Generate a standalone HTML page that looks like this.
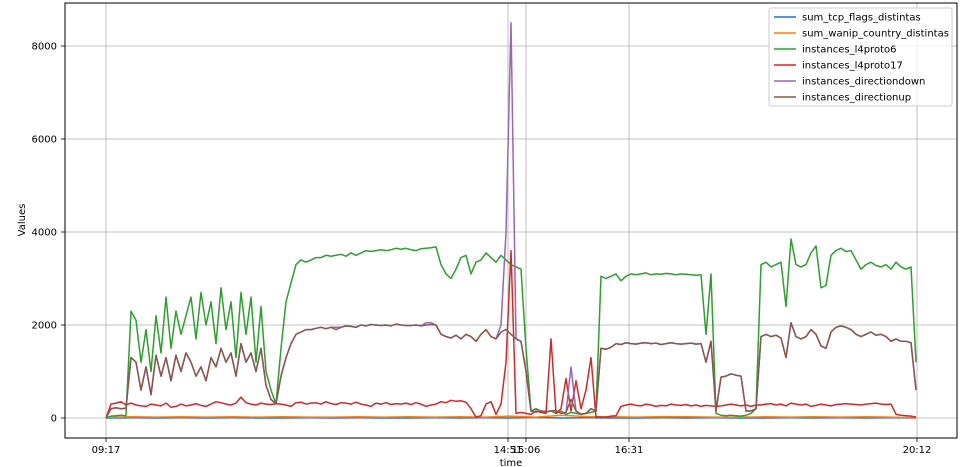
<!DOCTYPE html>
<html><head><meta charset="utf-8"><style>
html,body{margin:0;padding:0;background:#fff}
svg{display:block;font-family:"DejaVu Sans","Liberation Sans",sans-serif}
</style></head><body>
<svg id="chart" width="968" height="467" viewBox="0 0 968 467" xmlns="http://www.w3.org/2000/svg">
<rect x="0" y="0" width="968" height="467" fill="#fff"/>
<g id="grid"></g>
<g id="series"></g>
<rect x="65" y="3" width="892" height="435" fill="none" stroke="#000" stroke-width="1"/>
<g id="ticks"></g>
<text x="511" y="466" font-size="10" text-anchor="middle">time</text>
<text x="0" y="0" font-size="10" text-anchor="middle" transform="translate(25,220) rotate(-90)">Values</text>
<g id="legend"></g>
</svg>
<script>
const seriesNames = ["sum_tcp_flags_distintas","sum_wanip_country_distintas","instances_l4proto6","instances_l4proto17","instances_directiondown","instances_directionup"];
const seriesColors = ["#1f77b4","#ff7f0e","#2ca02c","#d62728","#9467bd","#8c564b"];
const yTicks = [0,2000,4000,6000,8000];
const xTickPos = [0,80.4,84,104.6,162.2];
const xTickLabels = ["09:17","14:51","15:06","16:31","20:12"];
const blueValues = [0,5,0,5,0,5,0,0,5,0,5,0,0,5,0,5,0,10,0,5,0,0,5,0,5,0,0,5,0,5,0,5,0];
const orangeValues = [10,25,20,25,20,25,20,25,20,20,25,20,25,20,25,20,40,20,60,30,25,20,30,25,20,20,25,20,25,20,25,20,5];
const greenValues = [0,40,50,60,50,
2300,2100,1200,1900,1000,2200,1400,2600,1500,2300,1800,
2200,2600,1700,2700,2000,2500,1600,2800,1900,2500,1300,2700,1800,2600,1200,2400,1000,600,300,1500,
2500,2900,3300,3400,3350,
3400,3450,3450,3500,3480,3500,3520,3480,3550,3500,3550,3600,3580,3600,3620,3600,3620,3650,3630,3650,3620,3600,3640,3650,3660,3680,
3300,3100,3000,3200,3450,3500,3100,3350,3400,3550,3450,3350,3500,3400,3300,3250,3200,
1500,150,200,150,130,150,100,150,80,120,100,80,100,120,
150,3050,3000,3050,3100,2950,3050,3100,3080,3100,3120,3080,3100,3090,3110,3100,3080,3100,3090,3080,3070,3080,
1800,3100,100,60,50,60,50,40,60,100,
200,3300,3350,3250,3300,3350,2400,3850,3300,3250,3300,3550,3700,2800,2850,3500,
3600,3650,3580,3600,3400,3200,3300,3350,3280,3250,3300,3200,3350,3250,3200,3250,1200];
const redValues = [0,300,320,350,280,
320,280,260,250,300,280,260,320,230,250,300,260,280,310,270,250,300,350,330,300,280,320,450,330,300,280,320,300,290,310,300,280,250,330,340,300,
320,330,300,350,310,290,330,320,300,340,300,280,250,320,300,330,290,310,300,320,290,330,300,250,280,300,
350,330,380,360,370,340,200,20,50,300,350,80,300,1200,3600,100,120,
100,80,150,120,100,1700,100,200,850,150,800,200,600,1300,20,
20,20,40,50,250,
280,300,270,260,300,280,250,270,260,300,280,270,290,260,280,250,270,260,
250,260,280,300,280,260,280,250,280,
280,300,310,280,300,260,320,300,280,300,250,270,300,280,260,290,300,310,300,290,280,300,310,320,300,290,300,
80,60,50,40,20];
const purpleValues = [0,200,220,200,210,
1300,1200,600,1100,500,1350,900,1300,800,1350,1000,
1400,1200,900,1100,800,1300,1100,1500,1200,1400,900,1600,1200,1400,1000,1500,700,400,300,900,
1300,1600,1800,1850,1900,
1900,1930,1950,1920,1950,1950,1950,1980,1970,1950,2000,1980,2010,2000,1990,2000,1980,2020,2000,1990,1990,2000,1980,2050,2050,2000,
1800,1750,1720,1780,1700,1800,1750,1650,1800,1900,1750,1700,2000,4000,8500,1700,1650,
1000,150,130,150,140,150,160,100,120,1100,150,80,100,200,
150,1500,1480,1520,1600,1580,1620,1600,1590,1610,1620,1600,1610,1580,1600,1620,1600,1590,1600,1610,1590,1600,
1200,1650,150,880,900,950,920,900,150,150,
200,1750,1800,1750,1780,1720,1300,2050,1750,1700,1750,1900,1800,1550,1500,1850,
1950,1980,1950,1900,1800,1750,1800,1850,1780,1800,1750,1650,1700,1650,1650,1620,600];
const brownValues = [0,200,220,200,210,
1300,1200,600,1100,500,1350,900,1300,800,1350,1000,
1400,1200,900,1100,800,1300,1100,1500,1200,1400,900,1600,1200,1400,1000,1500,700,400,300,900,
1300,1600,1800,1850,1900,
1900,1930,1950,1920,1950,1900,1950,1980,1970,1950,2000,1980,2010,2000,1990,2000,1980,2020,2000,1990,1990,2000,1980,2000,2010,2000,
1800,1750,1720,1780,1700,1800,1750,1650,1800,1900,1750,1700,1850,1900,1800,1700,1650,
1000,150,130,150,140,150,160,100,120,400,150,80,100,200,
150,1500,1480,1520,1600,1580,1620,1600,1590,1610,1620,1600,1610,1580,1600,1620,1600,1590,1600,1610,1590,1600,
1200,1650,150,880,900,950,920,900,150,150,
200,1750,1800,1750,1780,1720,1300,2050,1750,1700,1750,1900,1800,1550,1500,1850,
1950,1980,1950,1900,1800,1750,1800,1850,1780,1800,1750,1650,1700,1650,1650,1620,600];

const NS="http://www.w3.org/2000/svg";
const X0=106, X1=916, IMAX=162;
function xScale(i){return X0+(X1-X0)*i/IMAX;}
function yScale(v){return 418-v*(372/8000);}

const grid=document.getElementById('grid');
const ticks=document.getElementById('ticks');
yTicks.forEach(function(t){
  const y=yScale(t);
  const gl=document.createElementNS(NS,'line');
  gl.setAttribute('x1',65);gl.setAttribute('x2',957);gl.setAttribute('y1',y);gl.setAttribute('y2',y);
  gl.setAttribute('stroke','#b0b0b0');gl.setAttribute('stroke-width','0.8');
  
  
  grid.appendChild(gl);
  const tk=document.createElementNS(NS,'line');
  tk.setAttribute('x1',61);tk.setAttribute('x2',65);tk.setAttribute('y1',y);tk.setAttribute('y2',y);
  tk.setAttribute('stroke','#000');tk.setAttribute('stroke-width','0.8');
  
  
  ticks.appendChild(tk);
  const tx=document.createElementNS(NS,'text');
  tx.setAttribute('x',57);tx.setAttribute('y',y+3.5);tx.setAttribute('font-size','10');tx.setAttribute('text-anchor','end');
  tx.textContent=t;
  
  
  ticks.appendChild(tx);
});
xTickPos.forEach(function(p,k){
  const x=xScale(p);
  const gl=document.createElementNS(NS,'line');
  gl.setAttribute('x1',x);gl.setAttribute('x2',x);gl.setAttribute('y1',3);gl.setAttribute('y2',438);
  gl.setAttribute('stroke','#b0b0b0');gl.setAttribute('stroke-width','0.8');
  
  
  grid.appendChild(gl);
  const tk=document.createElementNS(NS,'line');
  tk.setAttribute('x1',x);tk.setAttribute('x2',x);tk.setAttribute('y1',438);tk.setAttribute('y2',442);
  tk.setAttribute('stroke','#000');tk.setAttribute('stroke-width','0.8');
  
  
  ticks.appendChild(tk);
  const tx=document.createElementNS(NS,'text');
  tx.setAttribute('x',x);tx.setAttribute('y',453);tx.setAttribute('font-size','10');tx.setAttribute('text-anchor','middle');
  tx.textContent=xTickLabels[k];
  
  
  ticks.appendChild(tx);
});

const allSeries=[blueValues,orangeValues,greenValues,redValues,purpleValues,brownValues];
const seriesG=document.getElementById('series');
allSeries.forEach(function(vals,s){
  const step=IMAX/(vals.length-1);
  const pts=vals.map(function(v,i){return xScale(i*step).toFixed(1)+','+yScale(v).toFixed(1);}).join(' ');
  const pl=document.createElementNS(NS,'polyline');
  pl.setAttribute('points',pts);pl.setAttribute('fill','none');
  pl.setAttribute('stroke',seriesColors[s]);pl.setAttribute('stroke-width','1.5');pl.setAttribute('stroke-linejoin','round');
  
  
  seriesG.appendChild(pl);
});

const lg=document.getElementById('legend');
const box=document.createElementNS(NS,'rect');
box.setAttribute('x',769);box.setAttribute('y',8);box.setAttribute('width',183);box.setAttribute('height',98);box.setAttribute('rx',2);
box.setAttribute('fill','#fff');box.setAttribute('fill-opacity','0.8');box.setAttribute('stroke','#ccc');


lg.appendChild(box);
seriesNames.forEach(function(n,s){
  const y=17+s*16;
  const ln=document.createElementNS(NS,'line');
  ln.setAttribute('x1',774);ln.setAttribute('x2',796);ln.setAttribute('y1',y);ln.setAttribute('y2',y);
  ln.setAttribute('stroke',seriesColors[s]);ln.setAttribute('stroke-width','1.5');
  
  
  lg.appendChild(ln);
  const tx=document.createElementNS(NS,'text');
  tx.setAttribute('x',802);tx.setAttribute('y',y+3.5);tx.setAttribute('font-size','10');
  tx.textContent=n;
  
  
  lg.appendChild(tx);
});
</script>
</body></html>
